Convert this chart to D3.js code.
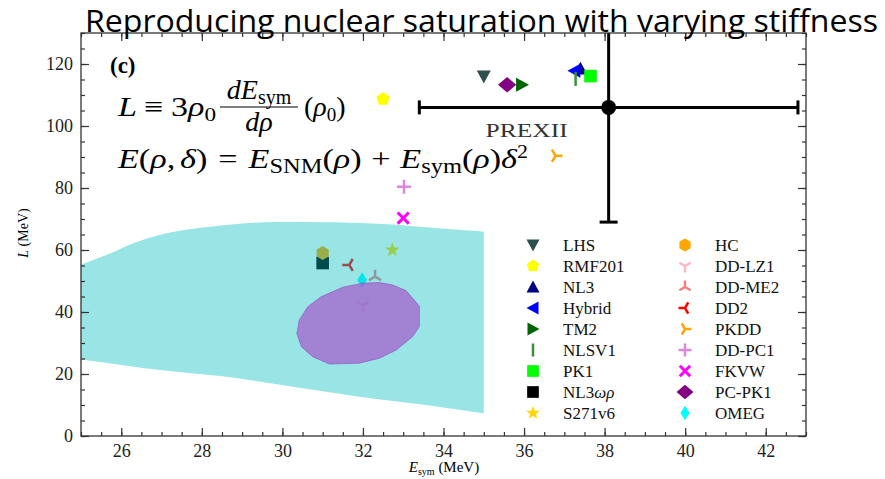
<!DOCTYPE html>
<html>
<head>
<meta charset="utf-8">
<script src="https://cdn.jsdelivr.net/npm/d3@7"></script>
<style>
  body { margin: 0; background: #fff; }
</style>
</head>
<body>
<div id="canvas"></div>
<script>
// model data, two legend columns of 9
var models = ["LHS", "RMF201", "NL3", "Hybrid", "TM2", "NLSV1", "PK1", "NL3ωρ", "S271v6",
              "HC", "DD-LZ1", "DD-ME2", "DD2", "PKDD", "DD-PC1", "FKVW", "PC-PK1", "OMEG"];
var esym = [35.0, 32.5, 37.4, 37.25, 35.95, 37.28, 37.65, 31.0, 32.73,
            31.0, 32.0, 32.3, 31.66, 36.78, 33.02, 33.0, 35.58, 31.98];
var lval = [116.0, 108.7, 118.5, 117.8, 113.3, 115.2, 116.1, 55.8, 60.0,
            59.0, 42.3, 51.4, 55.2, 90.4, 80.4, 70.3, 113.3, 50.3];
var markers = ["v", "p", "^", "<", ">", "|", "s", "s", "*",
               "h", "1", "2", "3", "4", "+", "x", "D", "d"];
var colors = ["#2f4f4f", "#ffff00", "#000080", "#0000ff", "#006400", "#3a8f3a", "#00ff00", "#000000", "#ffd700",
              "#ffa500", "#ffb6c1", "#f08080", "#ff0000", "#ffa500", "#dd88dd", "#ff00ff", "#800080", "#00ffff"];

// PREXII measurement
var prexE = 38.1, prexEerr = 4.7, prexL = 106, prexLerr = 37;

// constraint band (upper edge then lower edge)
var bandTopE = [25.0, 25.72, 26.3, 27.12, 28.2, 29.27, 30.26, 31.66, 32.74, 33.56, 35.0];
var bandTopL = [55.3, 58.9, 62.2, 65.4, 67.5, 68.8, 69.0, 68.8, 68.2, 67.3, 65.9];
var bandBotE = [25.0, 26.96, 28.61, 30.26, 31.91, 33.56, 35.0];
var bandBotL = [24.7, 21.3, 19.1, 15.9, 12.7, 10.0, 7.3];

// ellipse contour
var ellE = [30.36, 30.42, 30.63, 30.96, 31.5, 31.99, 32.41, 32.74, 33.07, 33.4, 33.4, 33.23, 32.82, 32.41, 31.91, 31.17, 30.75, 30.47];
var ellL = [33.1, 37.4, 41.7, 44.9, 48.0, 49.3, 49.5, 48.7, 46.9, 41.9, 35.3, 32.0, 27.7, 25.1, 23.5, 23.2, 25.6, 28.8];

var xTicks = [26, 28, 30, 32, 34, 36, 38, 40, 42];
var yTicks = [0, 20, 40, 60, 80, 100, 120];

var serif = "Liberation Serif, DejaVu Serif, serif";
var width = 885, height = 479;
var x = d3.scaleLinear().domain([25, 43]).range([81, 806]);
var y = d3.scaleLinear().domain([0, 130]).range([436, 33]);

var svg = d3.select("#canvas").append("svg")
    .attr("width", width).attr("height", height)
    .attr("font-family", serif);

svg.append("defs").append("clipPath").attr("id", "plotclip")
  .append("rect").attr("x", 81).attr("y", 33).attr("width", 725).attr("height", 403);

// marker shapes, s = half size
function markerPath(type, s) {
    var p = d3.path();
    var i, a;
    if (type == "v") {
        p.moveTo(-s, -s * 0.85); p.lineTo(s, -s * 0.85); p.lineTo(0, s); p.closePath();
    } else if (type == "^") {
        p.moveTo(-s, s * 0.85); p.lineTo(s, s * 0.85); p.lineTo(0, -s); p.closePath();
    } else if (type == "<") {
        p.moveTo(s * 0.85, -s); p.lineTo(s * 0.85, s); p.lineTo(-s, 0); p.closePath();
    } else if (type == ">") {
        p.moveTo(-s * 0.85, -s); p.lineTo(-s * 0.85, s); p.lineTo(s, 0); p.closePath();
    } else if (type == "s") {
        p.rect(-s * 0.9, -s * 0.9, s * 1.8, s * 1.8);
    } else if (type == "D") {
        p.moveTo(0, -s * 1.1); p.lineTo(s * 1.3, 0); p.lineTo(0, s * 1.1); p.lineTo(-s * 1.3, 0); p.closePath();
    } else if (type == "d") {
        p.moveTo(0, -s * 1.1); p.lineTo(s * 0.7, 0); p.lineTo(0, s * 1.1); p.lineTo(-s * 0.7, 0); p.closePath();
    } else if (type == "p") {
        for (i = 0; i < 5; i++) {
            a = -Math.PI / 2 + i * 2 * Math.PI / 5;
            if (i == 0) p.moveTo(s * Math.cos(a), s * Math.sin(a)); else p.lineTo(s * Math.cos(a), s * Math.sin(a));
        }
        p.closePath();
    } else if (type == "h") {
        for (i = 0; i < 6; i++) {
            a = -Math.PI / 2 + i * Math.PI / 3;
            if (i == 0) p.moveTo(s * Math.cos(a), s * Math.sin(a)); else p.lineTo(s * Math.cos(a), s * Math.sin(a));
        }
        p.closePath();
    } else if (type == "*") {
        for (i = 0; i < 10; i++) {
            a = -Math.PI / 2 + i * Math.PI / 5;
            var r = (i % 2 == 0) ? s * 1.1 : s * 0.45;
            if (i == 0) p.moveTo(r * Math.cos(a), r * Math.sin(a)); else p.lineTo(r * Math.cos(a), r * Math.sin(a));
        }
        p.closePath();
    } else if (type == "|") {
        p.moveTo(0, -s); p.lineTo(0, s);
    } else if (type == "+") {
        p.moveTo(0, -s); p.lineTo(0, s); p.moveTo(-s, 0); p.lineTo(s, 0);
    } else if (type == "x") {
        p.moveTo(-s * 0.8, -s * 0.8); p.lineTo(s * 0.8, s * 0.8); p.moveTo(-s * 0.8, s * 0.8); p.lineTo(s * 0.8, -s * 0.8);
    } else {
        // tri markers 1..4: arm directions in degrees
        var start = {"1": 90, "2": -90, "3": 180, "4": 0}[type];
        for (i = 0; i < 3; i++) {
            a = (start + i * 120) * Math.PI / 180;
            p.moveTo(0, 0); p.lineTo(s * Math.cos(a), s * Math.sin(a));
        }
    }
    return p.toString();
}
var lineMarkers = ["|", "+", "x", "1", "2", "3", "4"];
function styleMarker(sel) {
    sel.attr("fill", function(d) { return lineMarkers.indexOf(markers[d]) >= 0 ? "none" : colors[d]; })
       .attr("stroke", function(d) { return lineMarkers.indexOf(markers[d]) >= 0 ? colors[d] : "none"; })
       .attr("stroke-width", function(d) { return markers[d] == "x" ? 3 : 2.5; })
       .attr("stroke-linecap", "butt");
}

var plot = svg.append("g").attr("clip-path", "url(#plotclip)");
var idx = d3.range(models.length);

// points (drawn below the translucent regions)
plot.selectAll("path.pt").data(idx).enter().append("path")
    .attr("class", "pt")
    .attr("transform", function(d) { return "translate(" + x(esym[d]) + "," + y(lval[d]) + ")"; })
    .attr("d", function(d) { return markerPath(markers[d], 7); })
    .call(styleMarker);

// band
var bandPts = bandTopE.map(function(e, i) { return [x(e), y(bandTopL[i])]; });
for (var j = bandBotE.length - 1; j >= 0; j--) bandPts.push([x(bandBotE[j]), y(bandBotL[j])]);
bandPts.unshift([x(24.5), y(53.5)]);
bandPts.push([x(24.5), y(25.5)]);
plot.append("path")
    .attr("d", d3.line().curve(d3.curveCatmullRom)(bandPts.slice(0, 12)) +
               "L" + d3.line().curve(d3.curveCatmullRom)(bandPts.slice(12)).slice(1) + "Z")
    .attr("fill", "#00bfbf").attr("fill-opacity", 0.4);

// ellipse
var ellPts = ellE.map(function(e, i) { return [x(e), y(ellL[i])]; });
plot.append("path")
    .attr("d", d3.line().curve(d3.curveLinearClosed)(ellPts))
    .attr("fill", "#a562cc").attr("fill-opacity", 0.75)
    .attr("stroke", "#8e4cc0").attr("stroke-opacity", 0.6).attr("stroke-width", 1);

// PREXII error bars
var eb = plot.append("g").attr("stroke", "#000").attr("stroke-width", 3);
eb.append("line").attr("x1", x(prexE - prexEerr)).attr("x2", x(prexE + prexEerr))
    .attr("y1", y(prexL)).attr("y2", y(prexL));
eb.append("line").attr("x1", x(prexE)).attr("x2", x(prexE))
    .attr("y1", y(prexL - prexLerr)).attr("y2", y(prexL + prexLerr));
[prexE - prexEerr, prexE + prexEerr].forEach(function(e) {
    eb.append("line").attr("x1", x(e)).attr("x2", x(e)).attr("y1", y(prexL) - 7).attr("y2", y(prexL) + 7);
});
eb.append("line").attr("x1", x(prexE) - 9).attr("x2", x(prexE) + 9)
    .attr("y1", y(prexL - prexLerr)).attr("y2", y(prexL - prexLerr));
plot.append("circle").attr("cx", x(prexE)).attr("cy", y(prexL)).attr("r", 7.5).attr("fill", "#000");
svg.append("text").attr("x", x(prexE) - 123).attr("y", y(prexL) + 30)
    .attr("font-size", 18).attr("fill", "#333")
    .attr("textLength", 82).attr("lengthAdjust", "spacingAndGlyphs").text("PREXII");

// axes with inward ticks
function addAxis(axisFn, scale, tr, ticks, size, labels) {
    var ax = axisFn(scale).tickValues(ticks).tickSize(size).tickPadding(8);
    if (!labels) ax.tickFormat("");
    var g = svg.append("g").attr("transform", tr).call(ax);
    g.attr("font-family", serif).attr("font-size", 18);
    g.select(".domain").remove();
    g.selectAll("line").attr("stroke", "#333").attr("stroke-width", 1.2);
    g.selectAll("text").attr("fill", "#222");
    return g;
}
var xMinor = d3.range(25, 43.01, 0.5);
var yMinor = d3.range(0, 130.01, 5);
addAxis(d3.axisBottom, x, "translate(0,436)", xMinor, -4, false);
addAxis(d3.axisBottom, x, "translate(0,436)", xTicks, -8, true);
addAxis(d3.axisTop, x, "translate(0,33)", xMinor, -4, false);
addAxis(d3.axisTop, x, "translate(0,33)", xTicks, -8, false);
addAxis(d3.axisLeft, y, "translate(81,0)", yMinor, -4, false);
addAxis(d3.axisLeft, y, "translate(81,0)", yTicks, -8, true);
addAxis(d3.axisRight, y, "translate(806,0)", yMinor, -4, false);
addAxis(d3.axisRight, y, "translate(806,0)", yTicks, -8, false);

svg.append("rect").attr("x", 81).attr("y", 33).attr("width", 725).attr("height", 403)
    .attr("fill", "none").attr("stroke", "#333").attr("stroke-width", 1.3);

// axis labels
svg.append("text").attr("transform", "translate(28,233) rotate(-90)").attr("text-anchor", "middle")
    .attr("font-size", 14)
    .html('<tspan font-style="italic">L</tspan> (MeV)');
svg.append("text").attr("x", 444).attr("y", 472).attr("text-anchor", "middle")
    .attr("font-size", 15)
    .html('<tspan font-style="italic">E</tspan><tspan font-size="10" dy="3">sym</tspan><tspan dy="-3"> (MeV)</tspan>');

// panel label and formulas
svg.append("text").attr("x", 110).attr("y", 73).attr("font-size", 23).attr("font-weight", "bold").text("(c)");
svg.append("text").attr("x", 118).attr("y", 116).attr("font-size", 28)
    .attr("textLength", 98).attr("lengthAdjust", "spacingAndGlyphs")
    .html('<tspan font-style="italic">L</tspan><tspan dx="6">≡</tspan><tspan dx="6">3</tspan><tspan font-style="italic">ρ</tspan><tspan font-size="19" dy="5">0</tspan>');
svg.append("text").attr("x", 259).attr("y", 99).attr("font-size", 28).attr("text-anchor", "middle")
    .html('<tspan font-style="italic">dE</tspan><tspan font-size="20" dy="5">sym</tspan>');
svg.append("line").attr("x1", 220).attr("x2", 298).attr("y1", 107).attr("y2", 107)
    .attr("stroke", "#000").attr("stroke-width", 1.2);
svg.append("text").attr("x", 259).attr("y", 131).attr("font-size", 28).attr("text-anchor", "middle")
    .attr("font-style", "italic").text("dρ");
svg.append("text").attr("x", 304).attr("y", 116).attr("font-size", 28)
    .html('(<tspan font-style="italic">ρ</tspan><tspan font-size="19" dy="5">0</tspan><tspan dy="-5">)</tspan>');
svg.append("text").attr("x", 118).attr("y", 168).attr("font-size", 28)
    .attr("textLength", 410).attr("lengthAdjust", "spacingAndGlyphs")
    .html('<tspan font-style="italic">E</tspan>(<tspan font-style="italic">ρ</tspan>,<tspan dx="4" font-style="italic">δ</tspan>)' +
          '<tspan dx="9">=</tspan><tspan dx="9" font-style="italic">E</tspan><tspan font-size="20" dy="5">SNM</tspan><tspan dy="-5">(</tspan><tspan font-style="italic">ρ</tspan>)' +
          '<tspan dx="8">+</tspan><tspan dx="8" font-style="italic">E</tspan><tspan font-size="20" dy="5">sym</tspan><tspan dy="-5">(</tspan><tspan font-style="italic">ρ</tspan>)<tspan font-style="italic">δ</tspan><tspan font-size="18" dy="-10">2</tspan>');

// legend
var leg = svg.append("g");
var legItems = leg.selectAll("g").data(idx).enter().append("g")
    .attr("transform", function(d) {
        var col = Math.floor(d / 9), row = d % 9;
        return "translate(" + (533 + col * 152) + "," + (245 + row * 21) + ")";
    });
legItems.append("path").attr("d", function(d) { return markerPath(markers[d], 6.5); }).call(styleMarker);
legItems.append("text").attr("x", 30).attr("y", 6).attr("font-size", 17).attr("fill", "#111")
    .html(function(d) {
        return models[d] == "NL3ωρ" ? 'NL3<tspan font-style="italic">ωρ</tspan>' : models[d];
    });

// title
svg.append("text").attr("x", 85).attr("y", 32)
    .attr("font-family", "Open Sans, sans-serif").attr("font-size", 31).attr("fill", "#000")
    .attr("textLength", 793).attr("lengthAdjust", "spacingAndGlyphs")
    .text("Reproducing nuclear saturation with varying stiffness");
</script>
</body>
</html>
